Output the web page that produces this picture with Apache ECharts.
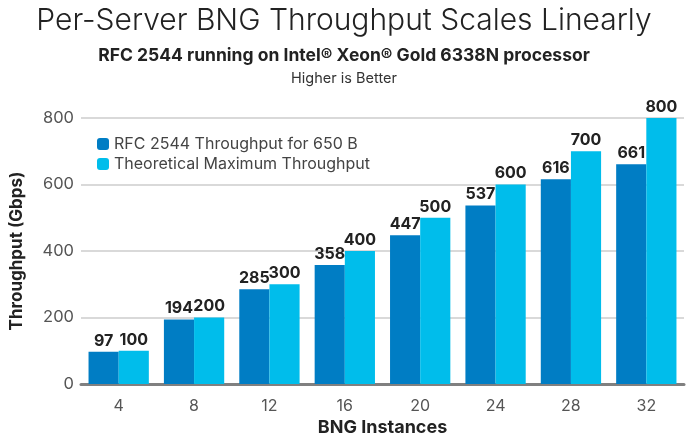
<!DOCTYPE html>
<html><head><meta charset="utf-8">
<script src="https://cdn.jsdelivr.net/npm/echarts@6/dist/echarts.min.js"></script>
<style>html,body{margin:0;padding:0;background:#fff}#c{width:688px;height:437px}</style>
</head><body><div id="c"></div>
<script>
const categories = ['4','8','12','16','20','24','28','32'];
const rfcThroughput = [97,194,285,358,447,537,616,661];
const theoreticalMax = [100,200,300,400,500,600,700,800];
const seriesNames = ['RFC 2544 Throughput for 650 B','Theoretical Maximum Throughput'];
const yTicks = [0,200,400,600,800];

const chart = echarts.init(document.getElementById('c'));
const labelStyle = {show:true, position:'top', distance:3, color:'#222', fontSize:16, fontWeight:'bold', fontFamily:'Inter'};
chart.setOption({
  animation:false,
  title:[
    {text:'Per-Server BNG Throughput Scales Linearly', left:'center', top:1, textStyle:{fontFamily:'Inter', fontWeight:300, fontSize:30, color:'#222'}},
    {text:'RFC 2544 running on Intel® Xeon® Gold 6338N processor', left:'center', top:42, textStyle:{fontFamily:'Inter', fontWeight:'bold', fontSize:17.5, color:'#222'}},
    {text:'Higher is Better', left:'center', top:66, textStyle:{fontFamily:'Inter', fontWeight:'normal', fontSize:14.5, color:'#333'}}
  ],
  legend:{orient:'vertical', left:92, top:131, itemWidth:12, itemHeight:12, itemGap:4,
    textStyle:{fontFamily:'Inter', fontSize:16, color:'#444'}, data:seriesNames},
  grid:{left:81, right:4, top:118, bottom:53, containLabel:false, outerBoundsMode:'none'},
  xAxis:{type:'category', data:categories,
    name:'BNG Instances', nameLocation:'middle', nameGap:32,
    nameTextStyle:{fontFamily:'Inter', fontWeight:'bold', fontSize:18, color:'#222'},
    axisLine:{lineStyle:{color:'#808080', width:3}}, axisTick:{show:false},
    axisLabel:{fontFamily:'Inter', fontSize:16, color:'#555', margin:14}},
  yAxis:{type:'value', min:yTicks[0], max:yTicks[yTicks.length-1], interval:200,
    name:'Throughput (Gbps)', nameLocation:'middle', nameGap:56,
    nameTextStyle:{fontFamily:'Inter', fontWeight:'bold', fontSize:17, color:'#222'},
    axisLine:{show:false}, axisTick:{show:false},
    axisLabel:{fontFamily:'Inter', fontSize:16.5, color:'#555', margin:7},
    splitLine:{lineStyle:{color:'#d9d9d9', width:2}}},
  series:[
    {name:seriesNames[0], type:'bar', data:rfcThroughput, barGap:'0%', barCategoryGap:'20%',
      itemStyle:{color:'#007DC4'}, label:labelStyle},
    {name:seriesNames[1], type:'bar', data:theoreticalMax,
      itemStyle:{color:'#00BDEB'}, label:labelStyle}
  ]
});
</script></body></html>
